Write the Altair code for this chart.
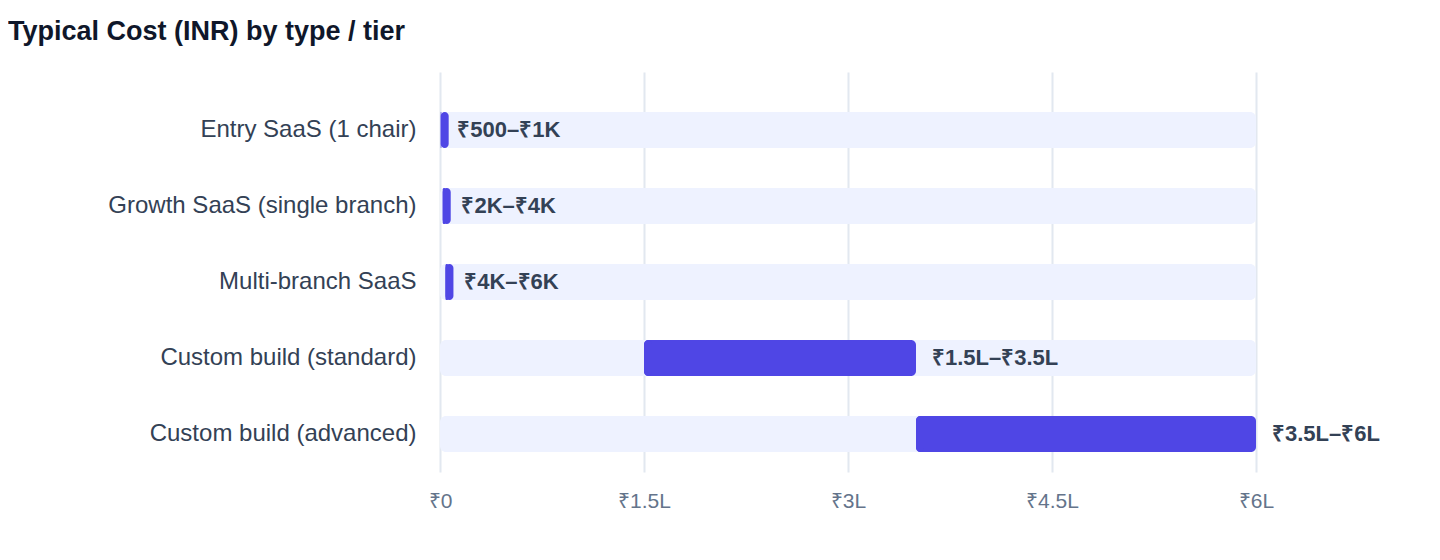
import altair as alt
import pandas as pd

tiers = [
    "Entry SaaS (1 chair)",
    "Growth SaaS (single branch)",
    "Multi-branch SaaS",
    "Custom build (standard)",
    "Custom build (advanced)",
]
cost_low = [500, 2000, 4000, 150000, 350000]
cost_high = [1000, 4000, 6000, 350000, 600000]
cost_labels = ["₹500–₹1K", "₹2K–₹4K", "₹4K–₹6K", "₹1.5L–₹3.5L", "₹3.5L–₹6L"]
axis_max = 600000
axis_ticks = [0, 150000, 300000, 450000, 600000]

FONT = "Helvetica, Liberation Sans, Arial, sans-serif"
INDIGO = "#4F46E5"
TRACK = "#EEF2FF"

df = pd.DataFrame({
    "tier": tiers,
    "lo": cost_low,
    "hi": cost_high,
    "label": cost_labels,
    "track_start": [0] * len(tiers),
    "track_end": [axis_max] * len(tiers),
})

y_enc = alt.Y(
    "tier:N",
    sort=tiers,
    title=None,
    scale=alt.Scale(paddingInner=0.526, paddingOuter=0.395, align=0.667),
    axis=alt.Axis(
        domain=False, ticks=False, grid=False, labelPadding=24, labelLimit=0,
        labelFont=FONT, labelFontSize=24, labelColor="#334155",
    ),
)
x_scale = alt.Scale(domain=[0, axis_max], nice=False)

base = alt.Chart(df)

track = base.mark_bar(color=TRACK, cornerRadius=6).encode(
    x=alt.X(
        "track_start:Q",
        scale=x_scale,
        title=None,
        axis=alt.Axis(
            values=axis_ticks, domain=False, ticks=False, labelFlush=False,
            gridColor="#E2E8F0", gridWidth=2, labelPadding=18,
            labelFont=FONT, labelFontSize=21, labelColor="#64748B",
            labelExpr="datum.value == 0 ? '₹0' : '₹' + datum.value / 100000 + 'L'",
        ),
    ),
    x2="track_end:Q",
    y=y_enc,
)

bars = base.mark_bar(color=INDIGO, cornerRadius=5).encode(
    x=alt.X("lo:Q", scale=x_scale),
    x2="hi:Q",
    y=y_enc,
)

# small ranges still get a visible pill
pills = base.mark_tick(color=INDIGO, thickness=8, size=36, cornerRadius=4,
                       xOffset=4, opacity=1).encode(
    x=alt.X("lo:Q", scale=x_scale),
    y=y_enc,
)

labels = base.mark_text(
    align="left", baseline="middle", dx=16,
    font=FONT, fontSize=22, fontWeight="bold", color="#334155",
).encode(
    x=alt.X("hi:Q", scale=x_scale),
    y=y_enc,
    text="label:N",
)

chart = alt.layer(track, bars, pills, labels).properties(
    width=816,
    height=400,
    autosize=alt.AutoSizeParams(type="none"),
    padding={"left": 432, "top": 64, "right": 160, "bottom": 60},
    title=alt.TitleParams(
        "Typical Cost (INR) by type / tier",
        anchor="start", frame="group", dx=-432, offset=26,
        font=FONT, fontSize=27, fontWeight="bold", color="#0F172A",
    ),
).configure_view(stroke=None)

chart.save("out.html", embed_options={"renderer": "svg", "actions": False})
